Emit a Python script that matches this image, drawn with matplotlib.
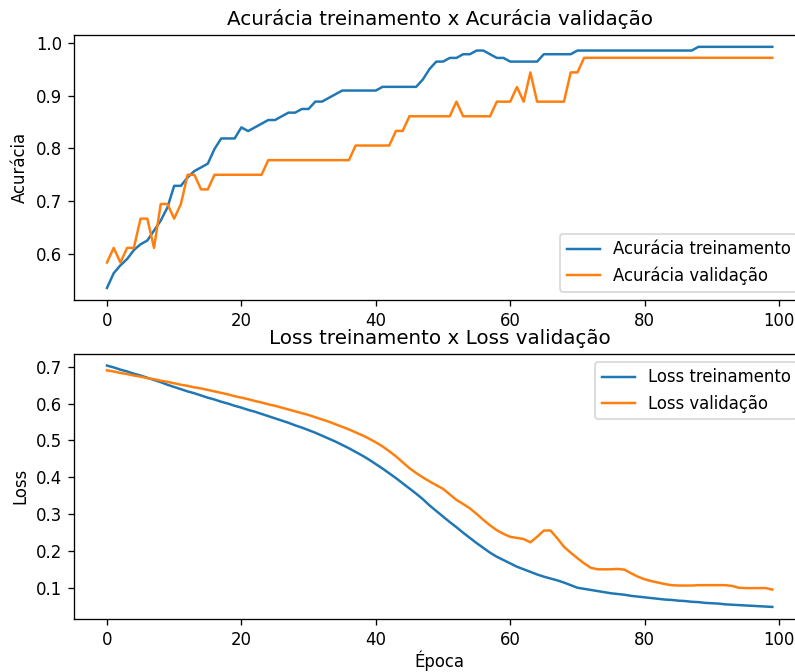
import matplotlib
matplotlib.use("Agg")
import matplotlib.pyplot as plt
import numpy as np

epochs = list(range(100))

acc_train = [
    0.535, 0.563, 0.578, 0.590, 0.607, 0.618, 0.625, 0.644, 0.663, 0.688,
    0.729, 0.729, 0.745, 0.757, 0.764, 0.771, 0.799, 0.819, 0.819, 0.819,
    0.840, 0.833, 0.840, 0.847, 0.854, 0.854, 0.861, 0.868, 0.868, 0.875,
    0.875, 0.889, 0.889, 0.896, 0.903, 0.910, 0.910, 0.910, 0.910, 0.910,
    0.910, 0.917, 0.917, 0.917, 0.917, 0.917, 0.917, 0.931, 0.951, 0.965,
    0.965, 0.972, 0.972, 0.979, 0.979, 0.986, 0.986, 0.979, 0.972, 0.972,
    0.965, 0.965, 0.965, 0.965, 0.965, 0.979, 0.979, 0.979, 0.979, 0.979,
    0.986, 0.986, 0.986, 0.986, 0.986, 0.986, 0.986, 0.986, 0.986, 0.986,
    0.986, 0.986, 0.986, 0.986, 0.986, 0.986, 0.986, 0.986, 0.993, 0.993,
    0.993, 0.993, 0.993, 0.993, 0.993, 0.993, 0.993, 0.993, 0.993, 0.993,
]

acc_val_k36 = [
    21, 22, 21, 22, 22, 24, 24, 22, 25, 25,
    24, 25, 27, 27, 26, 26, 27, 27, 27, 27,
    27, 27, 27, 27, 28, 28, 28, 28, 28, 28,
    28, 28, 28, 28, 28, 28, 28, 29, 29, 29,
    29, 29, 29, 30, 30, 31, 31, 31, 31, 31,
    31, 31, 32, 31, 31, 31, 31, 31, 32, 32,
    32, 33, 32, 34, 32, 32, 32, 32, 32, 34,
    34, 35, 35, 35, 35, 35, 35, 35, 35, 35,
    35, 35, 35, 35, 35, 35, 35, 35, 35, 35,
    35, 35, 35, 35, 35, 35, 35, 35, 35, 35,
]
acc_val = [k / 36 for k in acc_val_k36]

loss_train = [
    0.703, 0.698, 0.692, 0.687, 0.681, 0.676, 0.670, 0.664, 0.658, 0.651,
    0.645, 0.639, 0.633, 0.628, 0.622, 0.616, 0.611, 0.605, 0.600, 0.594,
    0.589, 0.583, 0.578, 0.572, 0.566, 0.560, 0.554, 0.548, 0.541, 0.535,
    0.528, 0.521, 0.513, 0.505, 0.497, 0.488, 0.479, 0.469, 0.459, 0.448,
    0.436, 0.424, 0.411, 0.398, 0.384, 0.370, 0.356, 0.341, 0.324, 0.309,
    0.294, 0.279, 0.265, 0.250, 0.236, 0.222, 0.209, 0.196, 0.185, 0.176,
    0.167, 0.158, 0.151, 0.144, 0.137, 0.131, 0.126, 0.121, 0.115, 0.108,
    0.101, 0.098, 0.095, 0.092, 0.089, 0.086, 0.084, 0.082, 0.079, 0.077,
    0.075, 0.073, 0.071, 0.069, 0.068, 0.066, 0.065, 0.063, 0.062, 0.060,
    0.059, 0.058, 0.056, 0.055, 0.054, 0.053, 0.052, 0.051, 0.050, 0.049,
]

loss_val = [
    0.690, 0.687, 0.683, 0.680, 0.676, 0.673, 0.669, 0.666, 0.662, 0.659,
    0.655, 0.651, 0.648, 0.644, 0.641, 0.637, 0.633, 0.629, 0.625, 0.620,
    0.616, 0.612, 0.607, 0.603, 0.598, 0.594, 0.589, 0.584, 0.579, 0.574,
    0.569, 0.563, 0.557, 0.551, 0.544, 0.537, 0.530, 0.522, 0.514, 0.505,
    0.495, 0.484, 0.471, 0.457, 0.441, 0.425, 0.412, 0.400, 0.389, 0.379,
    0.369, 0.354, 0.339, 0.328, 0.316, 0.301, 0.285, 0.270, 0.257, 0.247,
    0.239, 0.236, 0.233, 0.224, 0.239, 0.256, 0.256, 0.235, 0.212, 0.196,
    0.181, 0.167, 0.155, 0.151, 0.151, 0.151, 0.152, 0.150, 0.140, 0.131,
    0.124, 0.119, 0.115, 0.111, 0.108, 0.107, 0.107, 0.107, 0.108, 0.108,
    0.108, 0.108, 0.108, 0.106, 0.101, 0.100, 0.100, 0.100, 0.100, 0.096,
]

DPI = 119
W, H = 795.0, 672.0
fig = plt.figure(figsize=(W / DPI, H / DPI), dpi=DPI)
ax1 = fig.add_axes([73.7 / W, (H - 300) / H, 731.9 / W, 265.2 / H])
ax2 = fig.add_axes([73.7 / W, (H - 619) / H, 731.9 / W, 265.5 / H])

ax1.plot(epochs, acc_train, label="Acurácia treinamento")
ax1.plot(epochs, acc_val, label="Acurácia validação")
ax1.set_title("Acurácia treinamento x Acurácia validação")
ax1.set_ylabel("Acurácia")
ax1.legend(loc="lower right")

ax2.plot(epochs, loss_train, label="Loss treinamento")
ax2.plot(epochs, loss_val, label="Loss validação")
ax2.set_title("Loss treinamento x Loss validação")
ax2.set_ylabel("Loss")
ax2.set_xlabel("Época", labelpad=1)
ax2.legend(loc="upper right")

fig.savefig("out.png", dpi=DPI)
